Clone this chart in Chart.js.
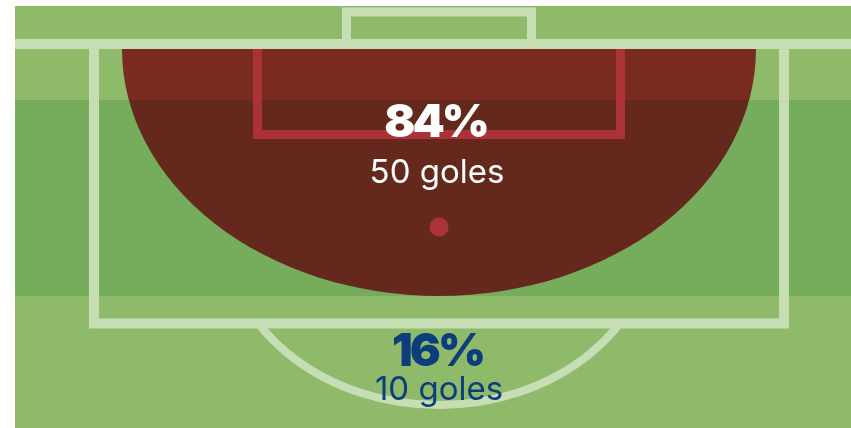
<!DOCTYPE html>
<html>
<head>
<meta charset="utf-8">
<script src="https://cdn.jsdelivr.net/npm/chart.js@4/dist/chart.umd.min.js"></script>
<style>
  html, body { margin: 0; padding: 0; background: #ffffff; }
  #wrap { width: 851px; height: 428px; position: relative; }
</style>
</head>
<body>
<div id="wrap"><canvas id="c" width="851" height="428"></canvas></div>
<script>
// ---- data ----
const zones = ['Dentro del área', 'Fuera del área'];
const percentages = [84, 16];
const goals = [50, 10];
const goalWord = 'goles';

// ---- pitch layout (in scale units, one unit per pixel of the 851x428 view) ----
const VIEW_W = 851, VIEW_H = 428;
const pitch = {
  left: 15, top: 6,
  bandTop: 100, bandBottom: 296,
  goalLineY: 44, lineW: 10,
  boxLeft: 94, boxRight: 784, boxBottom: 323.5,
  goalLeft: 346.5, goalRight: 531.5, goalTop: 12,
  smallLeft: 257.5, smallRight: 620.5, smallBottom: 134.5,
  spotX: 439, spotY: 227, spotR: 9.5,
  arcRx: 215, arcRy: 178,
  zoneCx: 439, zoneCy: 49, zoneRx: 317, zoneRy: 247
};
// label anchors (zone 0 = inside area, zone 1 = outside)
const labelPos = [ { x: 437, pctY: 137, goalsY: 183 }, { x: 439, pctY: 366, goalsY: 400 } ];
const labelColors = ['#ffffff', '#0c3d7d'];

const pitchPlugin = {
  id: 'pitch',
  beforeDatasetsDraw(chart) {
    const ctx = chart.ctx;
    const X = v => chart.scales.x.getPixelForValue(v);
    const Y = v => chart.scales.y.getPixelForValue(v);
    const sx = Math.abs(X(1) - X(0)), sy = Math.abs(Y(1) - Y(0));
    const P = pitch;
    ctx.save();
    // grass
    ctx.fillStyle = '#8eba6a';
    ctx.fillRect(X(P.left), Y(P.top), X(VIEW_W) - X(P.left), Y(VIEW_H) - Y(P.top));
    // darker band
    ctx.fillStyle = '#75ad5d';
    ctx.fillRect(X(P.left), Y(P.bandTop), X(VIEW_W) - X(P.left), Y(P.bandBottom) - Y(P.bandTop));
    // white lines
    ctx.strokeStyle = '#c7ddb4';
    ctx.lineWidth = P.lineW;
    ctx.lineJoin = 'miter';
    ctx.lineCap = 'butt';
    // goal line
    ctx.beginPath();
    ctx.moveTo(X(P.left), Y(P.goalLineY));
    ctx.lineTo(X(VIEW_W), Y(P.goalLineY));
    ctx.stroke();
    // penalty box
    ctx.beginPath();
    ctx.moveTo(X(P.boxLeft), Y(P.goalLineY));
    ctx.lineTo(X(P.boxLeft), Y(P.boxBottom));
    ctx.lineTo(X(P.boxRight), Y(P.boxBottom));
    ctx.lineTo(X(P.boxRight), Y(P.goalLineY));
    ctx.stroke();
    // goal
    ctx.lineWidth = 9;
    ctx.beginPath();
    ctx.moveTo(X(P.goalLeft), Y(P.goalLineY));
    ctx.lineTo(X(P.goalLeft), Y(P.goalTop));
    ctx.lineTo(X(P.goalRight), Y(P.goalTop));
    ctx.lineTo(X(P.goalRight), Y(P.goalLineY));
    ctx.stroke();
    // goal area
    ctx.beginPath();
    ctx.moveTo(X(P.smallLeft), Y(P.goalLineY));
    ctx.lineTo(X(P.smallLeft), Y(P.smallBottom));
    ctx.lineTo(X(P.smallRight), Y(P.smallBottom));
    ctx.lineTo(X(P.smallRight), Y(P.goalLineY));
    ctx.stroke();
    // penalty arc (only outside the box)
    ctx.save();
    ctx.beginPath();
    ctx.rect(0, Y(P.boxBottom) + 4, chart.width, chart.height);
    ctx.clip();
    ctx.lineWidth = 8;
    ctx.beginPath();
    ctx.ellipse(X(P.spotX), Y(P.spotY), P.arcRx * sx, P.arcRy * sy, 0, 0, Math.PI);
    ctx.stroke();
    ctx.restore();
    // penalty spot
    ctx.fillStyle = '#c7ddb4';
    ctx.beginPath();
    ctx.arc(X(P.spotX), Y(P.spotY), P.spotR * sx, 0, Math.PI * 2);
    ctx.fill();
    // zone 0 area: multiply-tinted half ellipse
    ctx.globalCompositeOperation = 'multiply';
    ctx.fillStyle = 'rgb(219,59,79)';
    ctx.beginPath();
    ctx.ellipse(X(P.zoneCx), Y(P.zoneCy), P.zoneRx * sx, P.zoneRy * sy, 0, 0, Math.PI);
    ctx.closePath();
    ctx.fill();
    ctx.globalCompositeOperation = 'source-over';
    ctx.restore();
  },
  afterDatasetsDraw(chart) {
    const ctx = chart.ctx;
    const X = v => chart.scales.x.getPixelForValue(v);
    const Y = v => chart.scales.y.getPixelForValue(v);
    ctx.save();
    ctx.textAlign = 'left';
    ctx.textBaseline = 'alphabetic';
    const centered = (txt, cx, y, spacing) => {
      ctx.letterSpacing = spacing + 'px';
      const w = ctx.measureText(txt).width - spacing;
      ctx.fillText(txt, cx - w / 2, y);
      ctx.letterSpacing = '0px';
    };
    zones.forEach((z, i) => {
      const p = labelPos[i];
      ctx.fillStyle = labelColors[i];
      ctx.font = '900 46px Inter';
      centered(percentages[i] + '%', X(p.x), Y(p.pctY), -3);
      ctx.font = '400 33px Inter';
      centered(goals[i] + ' ' + goalWord, X(p.x), Y(p.goalsY), 0);
    });
    ctx.restore();
  }
};

new Chart(document.getElementById('c'), {
  type: 'scatter',
  data: {
    datasets: zones.map((z, i) => ({
      label: z,
      data: [{ x: labelPos[i].x, y: labelPos[i].pctY, v: percentages[i] }],
      pointRadius: 0
    }))
  },
  options: {
    responsive: false,
    animation: false,
    devicePixelRatio: 1,
    layout: { padding: 0 },
    plugins: { legend: { display: false }, tooltip: { enabled: false } },
    scales: {
      x: { type: 'linear', min: 0, max: VIEW_W, display: false },
      y: { type: 'linear', min: 0, max: VIEW_H, reverse: true, display: false }
    }
  },
  plugins: [pitchPlugin]
});
</script>
</body>
</html>
